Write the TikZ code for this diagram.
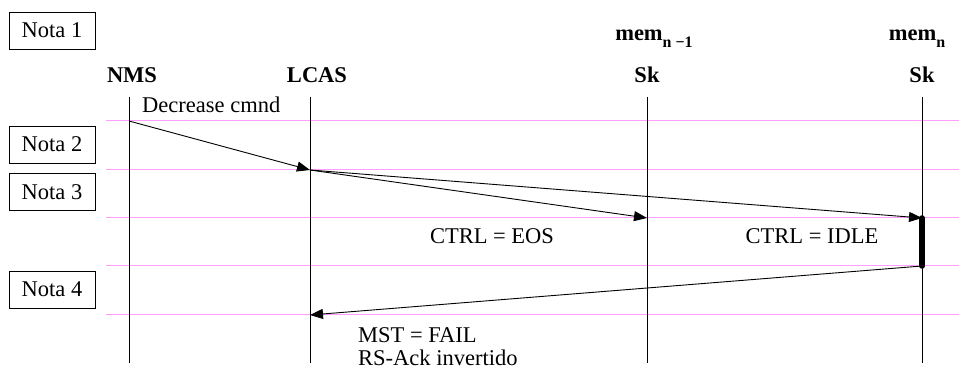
\documentclass[tikz,border=0pt]{standalone}
\usepackage{fontspec}
\setmainfont{Liberation Serif}
\usetikzlibrary{arrows.meta}
\definecolor{gridpink}{rgb}{1,0.62,1}
\tikzset{
  x=1pt, y=-1pt,
  every node/.style={font=\fontsize{22.5}{26}\selectfont, inner sep=0pt},
  notebox/.style={draw, line width=0.8pt, minimum width=86pt, minimum height=37pt},
  head/.style={font=\fontsize{22.5}{26}\selectfont\bfseries, anchor=base},
  lifeline/.style={line width=0.9pt},
  phase/.style={gridpink, line width=1pt},
  msg/.style={line width=0.9pt, -{Triangle[length=13pt,width=10pt]}},
  active/.style={line width=5.5pt, line cap=round},
}
\begin{document}
\begin{tikzpicture}
\useasboundingbox (0,0) rectangle (959,371);

% notes on the left
\node[notebox] (n1) at (52,30.5) {Nota 1};
\node[notebox] (n2) at (52,144.5) {Nota 2};
\node[notebox] (n3) at (52,192) {Nota 3};
\node[notebox] (n4) at (52,289.5) {Nota 4};

% phase separators
\foreach \yy/\nm in {121/a,170/b,218/c,266/d,315/e}{
  \coordinate (L\nm) at (106,\yy);
  \coordinate (R\nm) at (959,\yy);
  \draw[phase] (L\nm) -- (R\nm);
}

% entity headings
\node[head] (hnms) at (132,83) {NMS};
\node[head] (hlcas) at (317,83) {LCAS};
\node[head] (hsk1) at (647,83) {Sk};
\node[head] (hsk2) at (922,83) {Sk};
\node[head] (hmem1) at (654,41) {mem\raisebox{-7pt}{\fontsize{16}{18}\selectfont n −1}};
\node[head] (hmem2) at (917,41) {mem\raisebox{-7pt}{\fontsize{16}{18}\selectfont n}};

% lifelines
\coordinate (nmsT) at (129,97);  \coordinate (nmsB) at (129,363);
\coordinate (lcasT) at (310,97); \coordinate (lcasB) at (310,363);
\coordinate (sk1T) at (647,97);  \coordinate (sk1B) at (647,363);
\coordinate (sk2T) at (922,97);  \coordinate (sk2B) at (922,363);
\draw[lifeline] (nmsT) -- (nmsB);
\draw[lifeline] (lcasT) -- (lcasB);
\draw[lifeline] (sk1T) -- (sk1B);
\draw[lifeline] (sk2T) -- (sk2B);

% message points
\coordinate (m1) at (129,121);
\coordinate (m2) at (310,170);
\coordinate (m3) at (647,218);
\coordinate (m4) at (922,218);
\coordinate (m5) at (922,266);
\coordinate (m6) at (310,315);

% activation bar
\draw[active] (m4) -- (m5);

% messages
\draw[msg] (m1) -- (m2);
\draw[msg] (m2) -- (m3);
\draw[msg] (m2) -- (m4);
\draw[msg] (m5) -- (m6);

% message labels
\node[anchor=base west] (t1) at (142,113) {Decrease cmnd};
\node[anchor=base] (t2) at (492,244) {CTRL = EOS};
\node[anchor=base] (t3) at (812,244) {CTRL = IDLE};
\node[anchor=base west] (t4) at (358,343) {MST = FAIL};
\node[anchor=base west] (t5) at (358,366) {RS-Ack invertido};
\end{tikzpicture}
\end{document}
